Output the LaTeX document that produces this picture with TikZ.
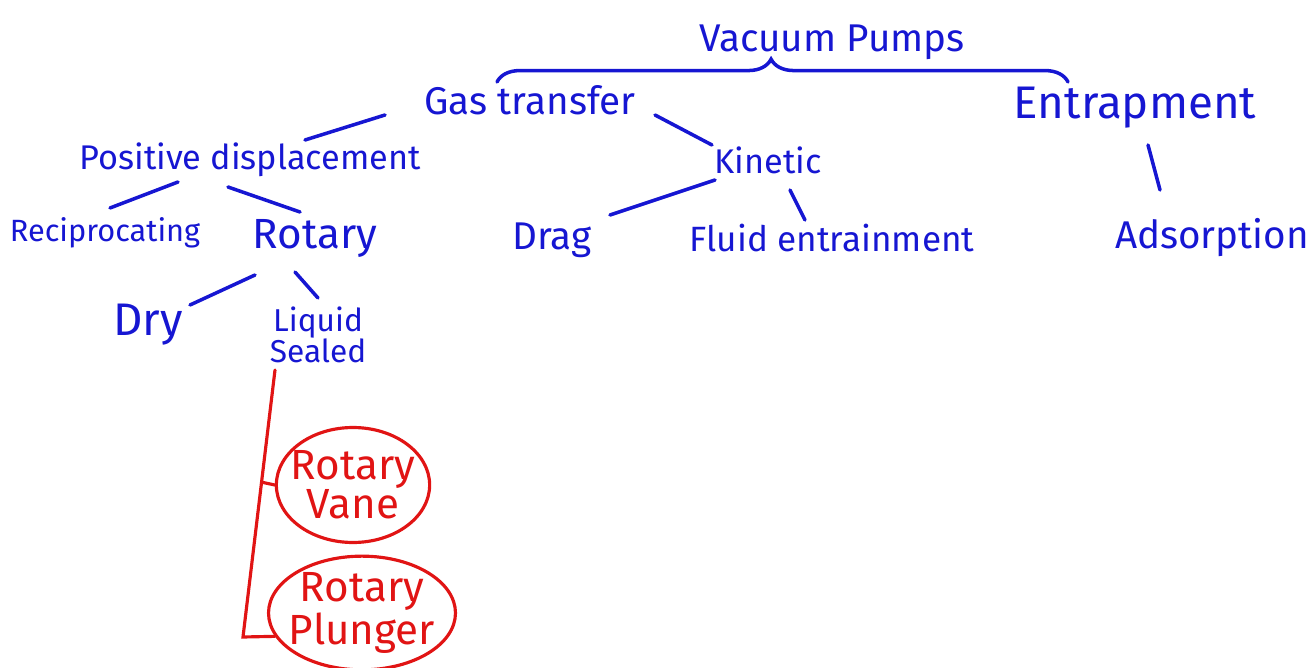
\documentclass[tikz,border=0pt]{standalone}
\usepackage{fontspec}
\setmainfont{Fira Sans}
\usepackage{xcolor}
\usepackage{tikz}
\usetikzlibrary{shapes.geometric,decorations.pathreplacing,calc}

\definecolor{penblue}{RGB}{22,22,210}
\definecolor{penred}{RGB}{225,20,20}

\begin{document}
\begin{tikzpicture}[
  x=0.02cm, y=-0.02cm,
  lbl/.style={text=penblue, inner sep=1pt, font=\fontsize{22}{24}\selectfont},
  biglbl/.style={lbl, font=\fontsize{26}{28}\selectfont},
  smalllbl/.style={lbl, font=\fontsize{19.5}{21}\selectfont},
  tinylbl/.style={lbl, align=center, font=\fontsize{18}{18}\selectfont},
  pumpbox/.style={ellipse, draw=penred, line width=1.8pt, text=penred, align=center,
                  inner ysep=0pt, font=\fontsize{24}{22}\selectfont},
  link/.style={draw=penblue, line width=2pt, line cap=round},
  redlink/.style={draw=penred, line width=1.8pt, line cap=round}
]
  \useasboundingbox (0,0) rectangle (1314,668);

  \node[lbl] (vac) at (832,42) {Vacuum Pumps};
  \node[lbl] (gas) at (530,100) {Gas transfer};
  \node[biglbl] (entr) at (1135,108) {Entrapment};
  \node[smalllbl] (pd) at (250,160) {Positive displacement};
  \node[smalllbl] (kin) at (768,160) {Kinetic};
  \node[lbl, font=\fontsize{17.5}{19}\selectfont] (rec) at (105,233) {Reciprocating};
  \node[lbl, font=\fontsize{24}{26}\selectfont] (rot) at (315,238) {Rotary};
  \node[lbl] (drag) at (552,240) {Drag};
  \node[lbl, font=\fontsize{20}{22}\selectfont] (fluid) at (832,238) {Fluid entrainment};
  \node[lbl] (ads) at (1212,238) {Adsorption};
  \node[biglbl] (dry) at (148,325) {Dry};
  \node[tinylbl] (liq) at (318,335) {Liquid\\Sealed};
  \node[pumpbox, inner xsep=-0.16cm, minimum height=2.3cm] (vane) at (353,485) {Rotary\\Vane};
  \node[pumpbox, inner xsep=-0.14cm, minimum height=2.2cm] (plunger) at (362,613) {Rotary\\Plunger};

  % brace under the title
  \coordinate (bl) at (497,82);
  \coordinate (br) at (1068,82);
  \draw[link, decorate, decoration={brace, amplitude=13pt, aspect=0.48}] (bl) -- (br);

  \draw[link] ($(gas)+(-145,15)$) -- ($(pd)+(55,-20)$);
  \draw[link] ($(gas)+(125,15)$) -- ($(kin)+(-56,-15)$);
  \draw[link] ($(entr)+(13,37)$) -- ($(ads)+(-52,-48)$);
  \draw[link] ($(pd)+(-72,22)$) -- ($(rec)+(5,-25)$);
  \draw[link] ($(pd)+(-22,27)$) -- ($(rot)+(-15,-26)$);
  \draw[link] ($(kin)+(-53,20)$) -- ($(drag)+(58,-25)$);
  \draw[link] ($(kin)+(22,30)$) -- ($(fluid)+(-27,-18)$);
  \draw[link] ($(rot)+(-60,37)$) -- ($(dry)+(42,-20)$);
  \draw[link] ($(rot)+(-20,34)$) -- ($(liq)+(0,-37)$);

  % liquid sealed types
  \coordinate (trunktop) at ($(liq)+(-43,35)$);
  \coordinate (trunkbot) at (243,637);
  \coordinate (trunkmid) at ($(trunktop)!0.42!(trunkbot)$);
  \draw[redlink] (trunktop) -- (trunkbot) -- (plunger.195);
  \draw[redlink] (trunkmid) -- (vane.west);
\end{tikzpicture}
\end{document}
